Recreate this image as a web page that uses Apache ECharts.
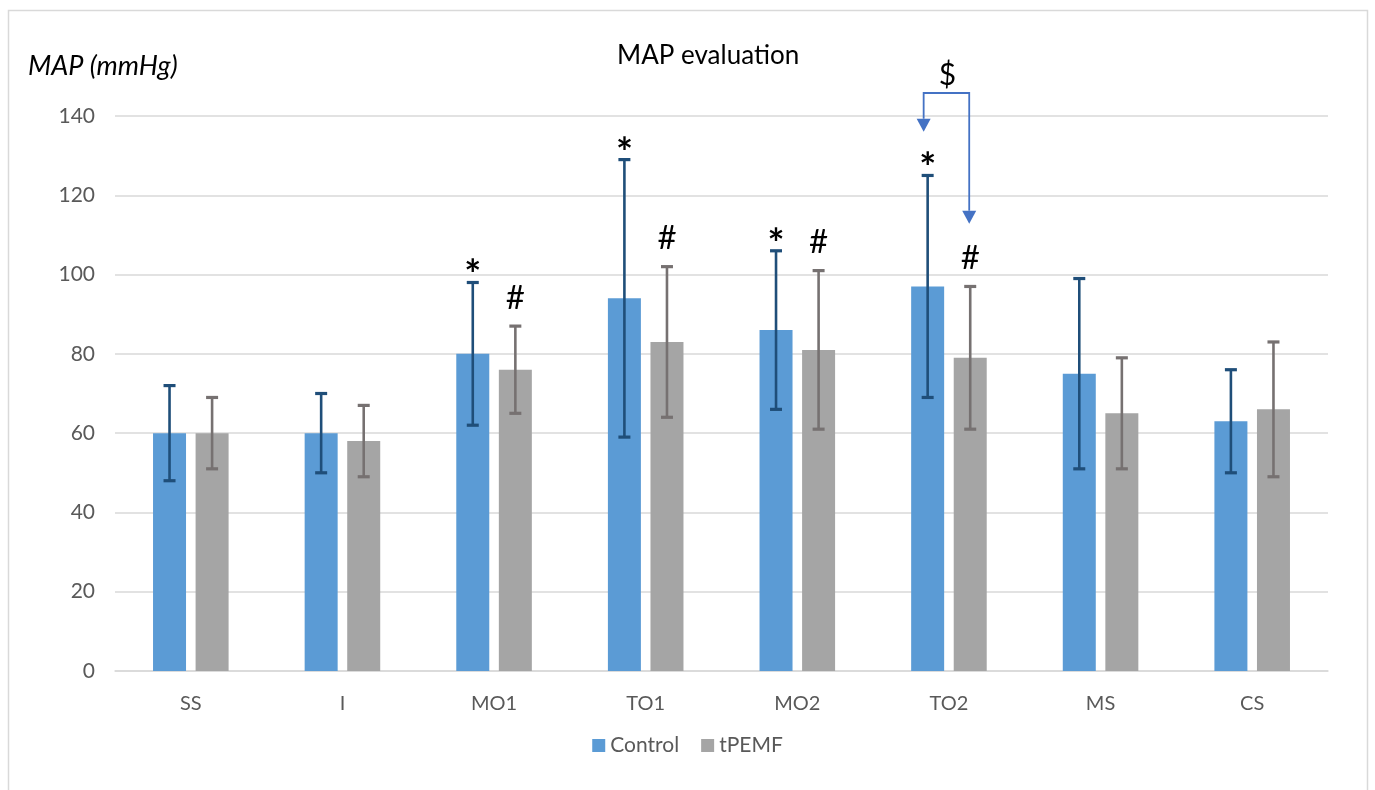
<!DOCTYPE html>
<html>
<head>
<meta charset="utf-8">
<title>MAP evaluation</title>
<script src="https://cdn.jsdelivr.net/npm/echarts@6/dist/echarts.min.js"></script>
<style>
  html, body { margin: 0; padding: 0; background: #fff; }
  #chart { width: 1375px; height: 790px; }
</style>
</head>
<body>
<div id="chart"></div>
<script>
// Measurement time points
const categories = ['SS', 'I', 'MO1', 'TO1', 'MO2', 'TO2', 'MS', 'CS'];

// Mean arterial pressure (mmHg): means and standard deviations
const controlMean = [60, 60, 80, 94, 86, 97, 75, 63];
const controlSD   = [12, 10, 18, 35, 20, 28, 24, 13];
const tpemfMean   = [60, 58, 76, 83, 81, 79, 65, 66];
const tpemfSD     = [9, 9, 11, 19, 20, 18, 14, 17];

// Significance markers above each error bar
const controlMarks = ['', '', '*', '*', '*', '*', '', ''];
const tpemfMarks   = ['', '', '#', '#', '#', '#', '', ''];

// Y axis tick values
const yTicks = [0, 20, 40, 60, 80, 100, 120, 140];

// Between-group comparison bracket ($) at TO2
const bracket = { category: 'TO2', top: 145.8, leftEnd: 136, rightEnd: 112.8, text: '$' };

const FONT = 'Lato, "Liberation Sans", sans-serif';
const BLUE = '#5B9BD5';
const GREY = '#A5A5A5';
const BLUE_ERR = '#1F4E79';
const GREY_ERR = '#767171';
const BAR_W = 33;
const BAR_GAP = 0.29;
const BAR_OFFSET = (BAR_W + BAR_W * BAR_GAP) / 2;

function errorSeries(name, means, sds, marks, side, color) {
  return {
    type: 'custom',
    name: name + ' SD',
    z: 5,
    clip: false,
    silent: true,
    data: categories.map((c, i) => [i, means[i], sds[i]]),
    renderItem: function (params, api) {
      const i = api.value(0);
      const m = api.value(1);
      const sd = api.value(2);
      const top = api.coord([i, m + sd]);
      const bot = api.coord([i, m - sd]);
      const x = top[0] + side * BAR_OFFSET;
      const half = 6;
      const children = [
        { type: 'line', shape: { x1: x, y1: top[1], x2: x, y2: bot[1] }, style: { stroke: color, lineWidth: 2.6 } },
        { type: 'line', shape: { x1: x - half, y1: top[1], x2: x + half, y2: top[1] }, style: { stroke: color, lineWidth: 3.2 } },
        { type: 'line', shape: { x1: x - half, y1: bot[1], x2: x + half, y2: bot[1] }, style: { stroke: color, lineWidth: 3.2 } }
      ];
      const mark = marks[params.dataIndex];
      if (mark) {
        const star = mark === '*';
        children.push({
          type: 'text',
          style: {
            text: mark,
            x: x,
            y: top[1] - (star ? 6 : 28),
            align: 'center',
            verticalAlign: 'middle',
            fill: '#000',
            font: (star ? 'bold 40px ' : '33px ') + FONT
          }
        });
      }
      return { type: 'group', children: children };
    }
  };
}

const bracketSeries = {
  type: 'custom',
  name: 'bracket',
  z: 6,
  clip: false,
  silent: true,
  data: [[categories.indexOf(bracket.category), bracket.top, bracket.leftEnd, bracket.rightEnd]],
  renderItem: function (params, api) {
    const i = api.value(0);
    const topP = api.coord([i, api.value(1)]);
    const lP = api.coord([i, api.value(2)]);
    const rP = api.coord([i, api.value(3)]);
    const xl = topP[0] - BAR_OFFSET - 4;
    const xr = topP[0] + BAR_OFFSET - 1;
    const c = '#4472C4';
    const ah = 13, aw = 7;
    return {
      type: 'group',
      children: [
        { type: 'polyline', shape: { points: [[xl, lP[1] - ah], [xl, topP[1]], [xr, topP[1]], [xr, rP[1] - ah]] },
          style: { stroke: c, lineWidth: 1.8, fill: null } },
        { type: 'polygon', shape: { points: [[xl - aw, lP[1] - ah], [xl + aw, lP[1] - ah], [xl, lP[1]]] }, style: { fill: c } },
        { type: 'polygon', shape: { points: [[xr - aw, rP[1] - ah], [xr + aw, rP[1] - ah], [xr, rP[1]]] }, style: { fill: c } },
        { type: 'text', style: { text: bracket.text, x: (xl + xr) / 2 + 1, y: topP[1] - 18, align: 'center',
            verticalAlign: 'middle', fill: '#000', font: '30px ' + FONT } }
      ]
    };
  }
};

const chart = echarts.init(document.getElementById('chart'));
chart.setOption({
  animation: false,
  backgroundColor: '#fff',
  textStyle: { fontFamily: FONT },
  title: {
    text: 'MAP evaluation',
    left: 612,
    top: 38,
    textStyle: { fontSize: 26, fontWeight: 'normal', color: '#000', fontFamily: FONT }
  },
  graphic: [
    { type: 'rect', shape: { x: 8.5, y: 10.5, width: 1359, height: 800 },
      style: { fill: null, stroke: '#d9d9d9', lineWidth: 1.5 }, silent: true, z: -1 },
    { type: 'text', left: 28, top: 53,
      style: { text: 'MAP (mmHg)', font: 'italic 27px ' + FONT, fill: '#000' } }
  ],
  legend: {
    data: ['Control', 'tPEMF'],
    top: 730,
    left: 'center',
    itemWidth: 13,
    itemHeight: 13,
    itemGap: 22,
    icon: 'rect',
    textStyle: { fontSize: 21, color: '#595959', fontFamily: FONT }
  },
  grid: { left: 115, right: 47, top: 116, bottom: 119 },
  xAxis: {
    type: 'category',
    data: categories,
    axisLine: { lineStyle: { color: '#d9d9d9', width: 1.5 } },
    axisTick: { show: false },
    axisLabel: { color: '#595959', fontSize: 20, margin: 23, fontFamily: FONT }
  },
  yAxis: {
    type: 'value',
    min: yTicks[0],
    max: yTicks[yTicks.length - 1],
    interval: yTicks[1] - yTicks[0],
    axisLine: { show: false },
    axisTick: { show: false },
    axisLabel: { color: '#595959', fontSize: 21, margin: 20, fontFamily: FONT },
    splitLine: { lineStyle: { color: '#d9d9d9', width: 1.5 } }
  },
  series: [
    { name: 'Control', type: 'bar', data: controlMean, barWidth: BAR_W, barGap: (BAR_GAP * 100) + '%',
      itemStyle: { color: BLUE } },
    { name: 'tPEMF', type: 'bar', data: tpemfMean, barWidth: BAR_W,
      itemStyle: { color: GREY } },
    errorSeries('Control', controlMean, controlSD, controlMarks, -1, BLUE_ERR),
    errorSeries('tPEMF', tpemfMean, tpemfSD, tpemfMarks, 1, GREY_ERR),
    bracketSeries
  ]
});
</script>
</body>
</html>
